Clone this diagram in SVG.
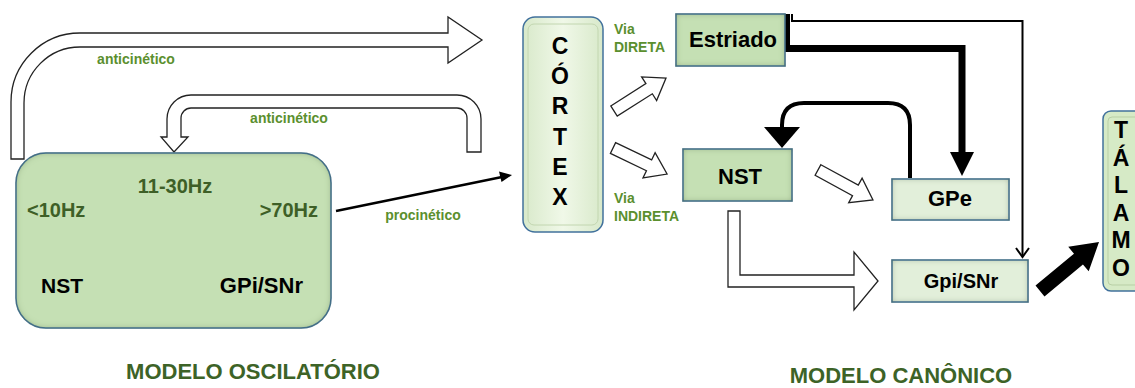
<svg xmlns="http://www.w3.org/2000/svg" width="1135" height="388" viewBox="0 0 1135 388">
<defs>
<style>
text{font-family:"Liberation Sans",Arial,sans-serif;font-weight:bold}
.lbl{font-size:14px;fill:#5b8f2e}
.hz{font-size:20px;fill:#3e5f27}
.title{font-size:22px;fill:#3d6327;text-anchor:middle}
.blk{fill:#000}
.hollow{fill:#fff;stroke:#222;stroke-width:1.3;stroke-linejoin:miter}
.box{stroke:#41719c;stroke-width:1.5}
.dark{fill:#c5e0b4}
.light{fill:#e2efda}
.vert{font-size:23px;fill:#000;text-anchor:middle}
</style>
<filter id="inset" x="-10%" y="-10%" width="120%" height="120%">
<feFlood flood-color="#4d6b35" flood-opacity="0.7" result="f"/>
<feComposite in="f" in2="SourceAlpha" operator="out" result="o"/>
<feGaussianBlur in="o" stdDeviation="3" result="b"/>
<feComposite in="b" in2="SourceAlpha" operator="in" result="s"/>
<feMerge><feMergeNode in="SourceGraphic"/><feMergeNode in="s"/></feMerge>
</filter>
<linearGradient id="cg" x1="0" y1="0" x2="1" y2="0">
<stop offset="0" stop-color="#d8e9ca"/><stop offset="0.5" stop-color="#f0f8e8"/><stop offset="1" stop-color="#d8e9ca"/>
</linearGradient>
</defs>
<rect width="1135" height="388" fill="#fff"/>

<g id="connectors">
<path class="hollow" d="M11,159 V102 A69,69 0 0 1 80,33 H448 V17 L482,40 L448,63 V47 H80 A56,56 0 0 0 24,103 V159 Z"/>
<path class="hollow" d="M481,152 V119 A24,24 0 0 0 457,95 H191 A24,24 0 0 0 167,119 V137 H161 L174,152 L188,137 H181 V118 A10,10 0 0 1 191,108 H457 A10,10 0 0 1 467,118 V152 Z"/>
<line x1="336" y1="211" x2="502" y2="177" stroke="#000" stroke-width="2.5"/>
<polygon points="512,175 499,171.5 501.5,182" fill="#000"/>
<polygon class="hollow" points="0,-6 41.6,-6 41.6,-14 61.6,0 41.6,14 41.6,6 0,6" transform="translate(614,111) rotate(-32.4)"/>
<polygon class="hollow" points="0,-6 40,-6 40,-14 60,0 40,14 40,6 0,6" transform="translate(613,148) rotate(25.7)"/>
<polygon class="hollow" points="0,-6 42.6,-6 42.6,-14 62.6,0 42.6,14 42.6,6 0,6" transform="translate(818,170) rotate(28.6)"/>
<path class="hollow" d="M728,211 H740 V275 H854 V252 L878,281 L854,310 V287 H728 Z"/>
<path d="M786.5,14 V48.5 H962 V154" fill="none" stroke="#000" stroke-width="7" stroke-linejoin="miter"/>
<polygon points="950,152 974,152 962,176" fill="#000"/>
<path d="M792,14 V21 H1022.5 V256" fill="none" stroke="#000" stroke-width="2"/>
<polyline points="1016,248 1022.5,257 1029,248" fill="none" stroke="#000" stroke-width="2"/>
<path d="M910,178 V125 Q910,103 888,103 H804 Q782,103 782,125 V129" fill="none" stroke="#000" stroke-width="4"/>
<polygon points="764,127 800,127 782,148" fill="#000"/>
<polygon points="0,-7 50,-7 50,-16 76.7,0 50,16 50,7 0,7" fill="#000" transform="translate(1040,291) rotate(-39.7)"/>
</g>

<g id="osc">
<rect class="box dark" x="16" y="153" width="315" height="175" rx="30" filter="url(#inset)"/>
<text class="hz" x="175" y="193" text-anchor="middle">11-30Hz</text>
<text class="hz" x="27" y="217">&lt;10Hz</text>
<text class="hz" x="318" y="217" text-anchor="end">&gt;70Hz</text>
<text class="blk" x="41" y="293" font-size="21">NST</text>
<text class="blk" x="303" y="293" font-size="22" text-anchor="end">GPi/SNr</text>
</g>

<g id="labels">
<text class="lbl" x="136" y="64" text-anchor="middle">anticinético</text>
<text class="lbl" x="289" y="123" text-anchor="middle">anticinético</text>
<text class="lbl" x="423" y="220" text-anchor="middle">procinético</text>
<text class="lbl" x="614" y="34">Via</text>
<text class="lbl" x="614" y="52">DIRETA</text>
<text class="lbl" x="614" y="203">Via</text>
<text class="lbl" x="614" y="221">INDIRETA</text>
</g>

<g id="cortex">
<rect x="523" y="17" width="80" height="215" rx="12" fill="url(#cg)" stroke="#41719c" stroke-width="1.5"/>
<rect x="528" y="24" width="70" height="201" rx="6" fill="none" stroke="#c2d6b0" stroke-width="1"/>
<text class="vert" x="560" y="54">C</text>
<text class="vert" x="560" y="84">Ó</text>
<text class="vert" x="560" y="114">R</text>
<text class="vert" x="560" y="145">T</text>
<text class="vert" x="560" y="175">E</text>
<text class="vert" x="560" y="205">X</text>
</g>

<g id="estriado">
<rect class="box dark" x="676" y="14" width="109" height="52" filter="url(#inset)"/>
<text class="blk" x="733" y="47" font-size="22" text-anchor="middle">Estriado</text>
</g>

<g id="nst">
<rect class="box dark" x="683" y="149" width="109" height="52" filter="url(#inset)"/>
<text class="blk" x="740" y="184" font-size="22" text-anchor="middle">NST</text>
</g>

<g id="gpe">
<rect class="box light" x="892" y="179" width="117" height="41" filter="url(#inset)"/>
<text class="blk" x="950" y="206" font-size="22" text-anchor="middle">GPe</text>
</g>

<g id="gpi">
<rect class="box light" x="892" y="260" width="136" height="42" filter="url(#inset)"/>
<text class="blk" x="961" y="288" font-size="20" text-anchor="middle">Gpi/SNr</text>
</g>

<g id="talamo">
<rect x="1103" y="111" width="50" height="180" rx="8" fill="#d6eac6" stroke="#41719c" stroke-width="1.5"/>
<rect x="1108" y="117" width="45" height="168" rx="4" fill="none" stroke="#b8cfa5" stroke-width="1"/>
<text class="vert" x="1121" y="138" font-size="20">T</text>
<text class="vert" x="1121" y="165.5" font-size="20">Á</text>
<text class="vert" x="1121" y="193" font-size="20">L</text>
<text class="vert" x="1121" y="220.5" font-size="20">A</text>
<text class="vert" x="1121" y="248" font-size="20">M</text>
<text class="vert" x="1121" y="275.5" font-size="20">O</text>
</g>

<g id="titles">
<text class="title" x="253" y="379">MODELO OSCILATÓRIO</text>
<text class="title" x="901" y="383">MODELO CANÔNICO</text>
</g>
</svg>
